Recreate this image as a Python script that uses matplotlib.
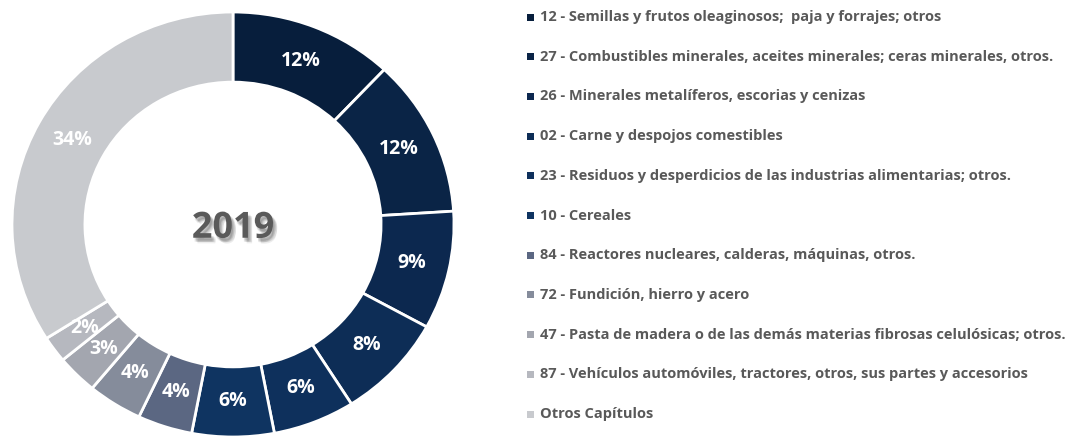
import matplotlib
matplotlib.use("Agg")
import matplotlib.pyplot as plt
import matplotlib.patheffects as pe
from matplotlib.patches import Rectangle

plt.rcParams["font.family"] = ["Open Sans", "DejaVu Sans"]

# share of exports by chapter, 2019 (%)
labels = [
    "12 - Semillas y frutos oleaginosos;  paja y forrajes; otros",
    "27 - Combustibles minerales, aceites minerales; ceras minerales, otros.",
    "26 - Minerales metalíferos, escorias y cenizas",
    "02 - Carne y despojos comestibles",
    "23 - Residuos y desperdicios de las industrias alimentarias; otros.",
    "10 - Cereales",
    "84 - Reactores nucleares, calderas, máquinas, otros.",
    "72 - Fundición, hierro y acero",
    "47 - Pasta de madera o de las demás materias fibrosas celulósicas; otros.",
    "87 - Vehículos automóviles, tractores, otros, sus partes y accesorios",
    "Otros Capítulos",
]
shares = [12, 12, 9, 8, 6, 6, 4, 4, 3, 2, 34]
colors = ["#071E3C", "#0A2446", "#0C284F", "#0D2D56", "#0E305C", "#0F3461",
          "#5B6782", "#858C9B", "#A3A6AF", "#B6B8BF", "#C8CACE"]
center_label = "2019"

W, H = 1074, 437
fig = plt.figure(figsize=(W / 100, H / 100), dpi=100)

# the source picture is slightly stretched sideways, so the ring is an ellipse
x0, x1, y0, y1 = 12, 454, 12, 437
ax = fig.add_axes([x0 / W, (H - y1) / H, (x1 - x0) / W, (y1 - y0) / H])
wedges, _, autotexts = ax.pie(
    shares, colors=colors, startangle=90, counterclock=False,
    autopct="%d%%", pctdistance=0.83, radius=1.0,
    wedgeprops=dict(width=0.33, edgecolor="white", linewidth=2),
    textprops=dict(color="white", fontsize=14, fontweight="bold"),
)
ax.set_xlim(-1, 1)
ax.set_ylim(-1, 1)
ax.set_aspect("auto")
ax.axis("off")

# soft drop shadow: a few faint offset copies
shadow = [pe.SimplePatchShadow(offset=(dx, dy), shadow_rgbFace="#000000", alpha=0.07)
          for dx, dy in [(1, -2), (2, -3), (3, -4), (2, -2), (1, -3), (3, -3)]]
t = ax.text(0, -0.02, center_label, ha="center", va="center", fontsize=26,
            fontweight="bold", color="#5A5A5A")
t.set_path_effects(shadow + [pe.Normal()])

# legend drawn by hand to match the row spacing
row0, step = 17, 39.7
for i, (lab, col) in enumerate(zip(labels, colors)):
    y = row0 + i * step
    fig.add_artist(Rectangle((527 / W, (H - y - 3.5) / H), 7 / W, 7 / H,
                             transform=fig.transFigure, facecolor=col, edgecolor="none"))
    fig.text(540 / W, (H - y) / H, lab, ha="left", va="center", fontsize=10.55,
             fontweight="bold", color="#595959")

fig.savefig("out.png", dpi=100)
